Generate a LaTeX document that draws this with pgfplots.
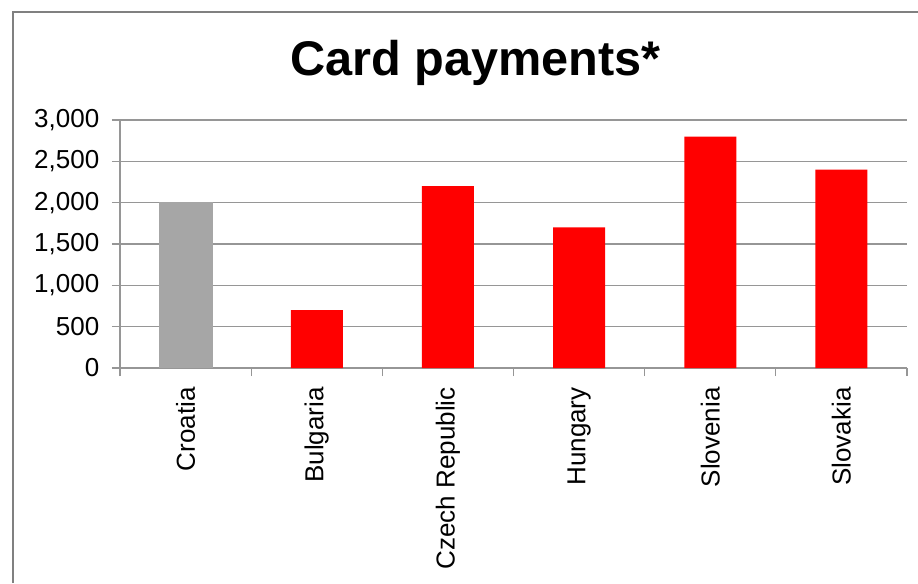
\documentclass[border=0pt]{standalone}
\usepackage{pgfplots}
\pgfplotsset{compat=1.18}
\usepackage{fontspec}
\setmainfont{Liberation Sans}
\definecolor{barred}{RGB}{255,0,0}
\definecolor{bargray}{RGB}{166,166,166}
\definecolor{gridgray}{RGB}{150,150,150}
\definecolor{framegray}{RGB}{128,128,128}
\begin{document}
\begin{tikzpicture}
\useasboundingbox (-90pt,-161.25pt) rectangle (598.5pt,276pt);
\draw[framegray, line width=1.6pt] (-80.25pt,-161.25pt) -- (-80.25pt,267pt) -- (598.5pt,267pt);
\begin{axis}[
  at={(0,0)}, anchor=south west,
  scale only axis,
  width=590.25pt, height=186pt,
  xmin=-0.5, xmax=5.5,
  ymin=0, ymax=3000,
  ytick={0,500,...,3000},
  xtick={0,...,5},
  xticklabels={Croatia,Bulgaria,Czech Republic,Hungary,Slovenia,Slovakia},
  minor xtick={-0.5,0.5,...,5.5},
  major x tick style={draw=none},
  minor x tick style={gridgray, line width=0.8pt},
  minor tick length=6pt,
  major tick length=6pt,
  tick align=outside,
  y tick style={gridgray, line width=0.8pt},
  axis x line*=bottom,
  axis y line*=left,
  axis line style={gridgray, line width=0.8pt, -},
  ymajorgrids,
  grid style={gridgray, line width=0.8pt},
  xticklabel style={rotate=90, anchor=east, font=\fontsize{19.5}{22}\selectfont, xshift=-5pt},
  yticklabel style={font=\fontsize{19.5}{22}\selectfont, xshift=-6pt},
  /pgf/number format/assume math mode=true,
  /pgf/number format/1000 sep={,},
  scaled y ticks=false,
  clip=false,
]
\addplot[ybar, bar width=40.5pt, bar shift=0pt, fill=bargray, draw=none] coordinates {(0,2010)};
\addplot[ybar, bar width=39pt, bar shift=0pt, fill=barred, draw=none] coordinates {(1,700) (2,2200) (3,1700) (4,2800) (5,2400)};
\end{axis}
\node[font=\bfseries\fontsize{36.5}{40}\selectfont] at (266.6pt,229pt) {Card payments*};
\end{tikzpicture}
\end{document}
